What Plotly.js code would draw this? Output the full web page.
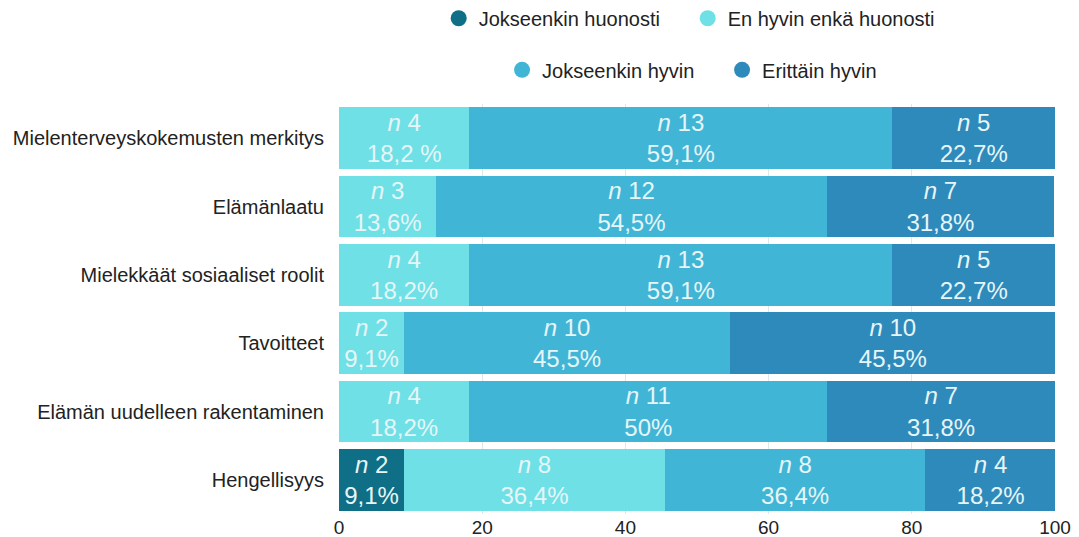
<!DOCTYPE html>
<html><head><meta charset="utf-8">
<script src="https://cdn.plot.ly/plotly-3.0.1.min.js"></script>
<style>html,body{margin:0;padding:0;background:#fff;}#chart{width:1079px;height:537px;}</style>
</head><body><div id="chart"></div>
<script>
const categories = ["Mielenterveyskokemusten merkitys","Elämänlaatu","Mielekkäät sosiaaliset roolit","Tavoitteet","Elämän uudelleen rakentaminen","Hengellisyys"];
const seriesNames = ["Jokseenkin huonosti","En hyvin enkä huonosti","Jokseenkin hyvin","Erittäin hyvin"];
const pctJokseenkinHuonosti = [null,null,null,null,null,9.1];
const pctEnHyvinEnka = [18.2,13.6,18.2,9.1,18.2,36.4];
const pctJokseenkinHyvin = [59.1,54.5,59.1,45.5,50,36.4];
const pctErittainHyvin = [22.7,31.8,22.7,45.5,31.8,18.2];
const nJokseenkinHuonosti = [null,null,null,null,null,2];
const nEnHyvinEnka = [4,3,4,2,4,8];
const nJokseenkinHyvin = [13,12,13,10,11,8];
const nErittainHyvin = [5,7,5,10,7,4];
const labJokseenkinHuonosti = ["","","","","","9,1%"];
const labEnHyvinEnka = ["18,2 %","13,6%","18,2%","9,1%","18,2%","36,4%"];
const labJokseenkinHyvin = ["59,1%","54,5%","59,1%","45,5%","50%","36,4%"];
const labErittainHyvin = ["22,7%","31,8%","22,7%","45,5%","31,8%","18,2%"];
const xTicks = [0,20,40,60,80,100];

const colors = ["#0f6f86","#6ee0e6","#41b5d6","#2e8abb"];
const pcts = [pctJokseenkinHuonosti,pctEnHyvinEnka,pctJokseenkinHyvin,pctErittainHyvin];
const ns = [nJokseenkinHuonosti,nEnHyvinEnka,nJokseenkinHyvin,nErittainHyvin];
const labs = [labJokseenkinHuonosti,labEnHyvinEnka,labJokseenkinHyvin,labErittainHyvin];
const FONT = 'Liberation Sans, Arial, sans-serif';

const traces = [];
for (let s=0;s<4;s++){
  traces.push({
    type:'bar', orientation:'h', y:categories, x:pcts[s], name:seriesNames[s],
    marker:{color:colors[s], line:{width:0}},
    text: ns[s].map((n,i)=> n==null ? "" : "<i>n</i> "+n+"<br>"+labs[s][i]),
    textposition:'inside', insidetextanchor:'middle', constraintext:'none', textangle:0,
    textfont:{family:FONT, size:24, color:'#e6f6f8'},
    hoverinfo:'skip', showlegend:false
  });
}
for (let s=0;s<4;s++){
  traces.push({
    type:'scatter', mode:'markers', x:[null], y:[null], name:seriesNames[s],
    marker:{color:colors[s], size:22, symbol:'circle'},
    legend: s<2 ? 'legend' : 'legend2', showlegend:true, hoverinfo:'skip'
  });
}
const legFont = {family:FONT, size:20, color:'#222'};
const layout = {
  width:1079, height:537,
  margin:{l:339, r:24, t:104, b:23, autoexpand:false},
  paper_bgcolor:'#fff', plot_bgcolor:'#fff',
  barmode:'stack', bargap:0.1,
  font:{family:FONT, size:20, color:'#222'},
  xaxis:{range:[0,100], tickvals:xTicks, ticktext:xTicks.map(String), showgrid:true, gridcolor:'#dde8ec', gridwidth:1, zeroline:false, showline:false, ticks:'', tickfont:{size:19,color:'#222'}, fixedrange:true, ticklabelstandoff:0},
  yaxis:{categoryorder:'array', categoryarray:categories, autorange:'reversed', showgrid:false, zeroline:false, showline:false, ticks:'', ticklabelstandoff:14, tickfont:{size:20,color:'#222'}},
  legend:{orientation:'h', traceorder:'normal', x:0.487, xanchor:'center', xref:'paper', y:0.966, yref:'container', yanchor:'middle', font:legFont, itemsizing:'trace', itemwidth:30, entrywidth:204, bgcolor:'rgba(0,0,0,0)'},
  legend2:{orientation:'h', traceorder:'normal', x:0.535, xanchor:'center', xref:'paper', y:0.870, yref:'container', yanchor:'middle', font:legFont, itemsizing:'trace', itemwidth:30, entrywidth:175, bgcolor:'rgba(0,0,0,0)'},
  showlegend:true
};
Plotly.newPlot('chart', traces, layout, {displayModeBar:false, staticPlot:true});
</script></body></html>
